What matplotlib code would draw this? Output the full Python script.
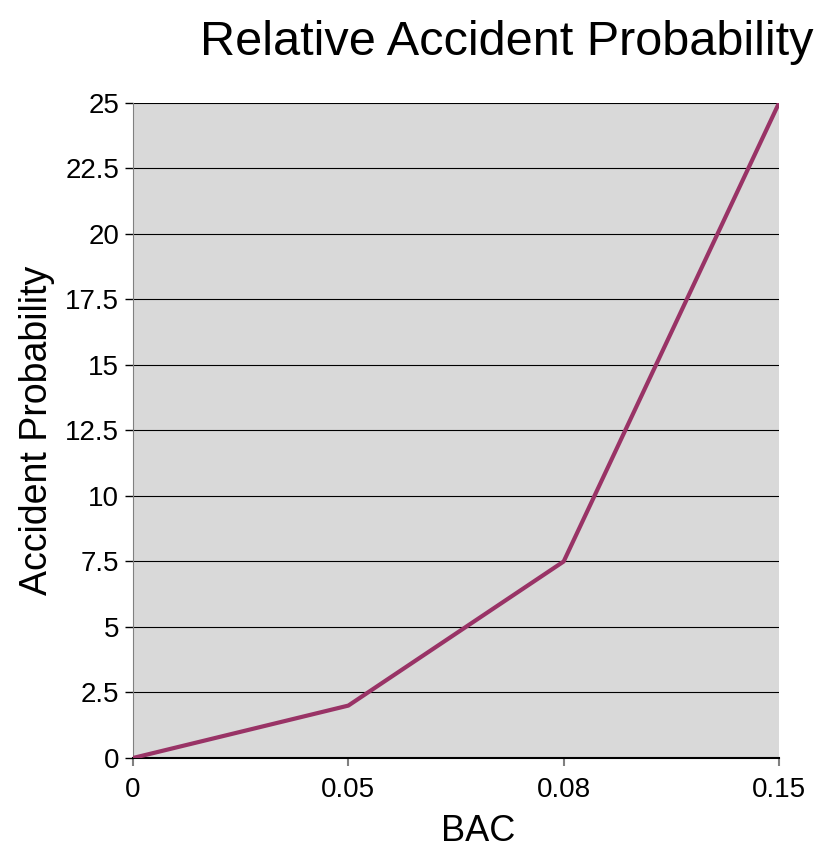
import matplotlib
matplotlib.use("Agg")
import matplotlib.pyplot as plt

# data
bac_labels = ["0", "0.05", "0.08", "0.15"]
probability = [0, 2, 7.5, 25]
y_ticks = [0, 2.5, 5, 7.5, 10, 12.5, 15, 17.5, 20, 22.5, 25]

plt.rcParams['font.family'] = ['Liberation Sans', 'DejaVu Sans']

fig = plt.figure(figsize=(8.24, 8.51), dpi=100)
ax = fig.add_axes([0.1614, 0.1093, 0.784, 0.7697])
ax.set_facecolor("#d9d9d9")

x = list(range(len(bac_labels)))
ax.plot(x, probability, color="#993366", linewidth=3, solid_capstyle="butt", zorder=3)

ax.set_xlim(0, len(bac_labels) - 1)
ax.set_ylim(0, 25)
ax.set_xticks(x)
ax.set_xticklabels(bac_labels)
ax.set_yticks(y_ticks)
ax.set_yticklabels([f"{v:g}" for v in y_ticks])
ax.yaxis.grid(True, color="black", linewidth=0.8)
ax.set_axisbelow(True)

for side in ["top", "right"]:
    ax.spines[side].set_visible(False)
ax.spines["left"].set_color("#808080")
ax.spines["bottom"].set_color("black")
ax.spines["bottom"].set_linewidth(1.5)

ax.tick_params(axis="x", direction="out", length=6, width=1.5, color="#808080",
               labelsize=20, pad=8)
ax.tick_params(axis="y", direction="out", length=6, width=1, color="black",
               labelsize=20, pad=4)

ax.set_xlabel("BAC", fontsize=26, va="center")
ax.set_ylabel("Accident Probability", fontsize=27)
ax.xaxis.set_label_coords(0.534, -0.112)
ax.yaxis.set_label_coords(-0.12, 0.5)
fig.text(0.987, 0.95, "Relative Accident Probability", fontsize=35, ha="right", va="center")

fig.savefig("out.png", dpi=100)
